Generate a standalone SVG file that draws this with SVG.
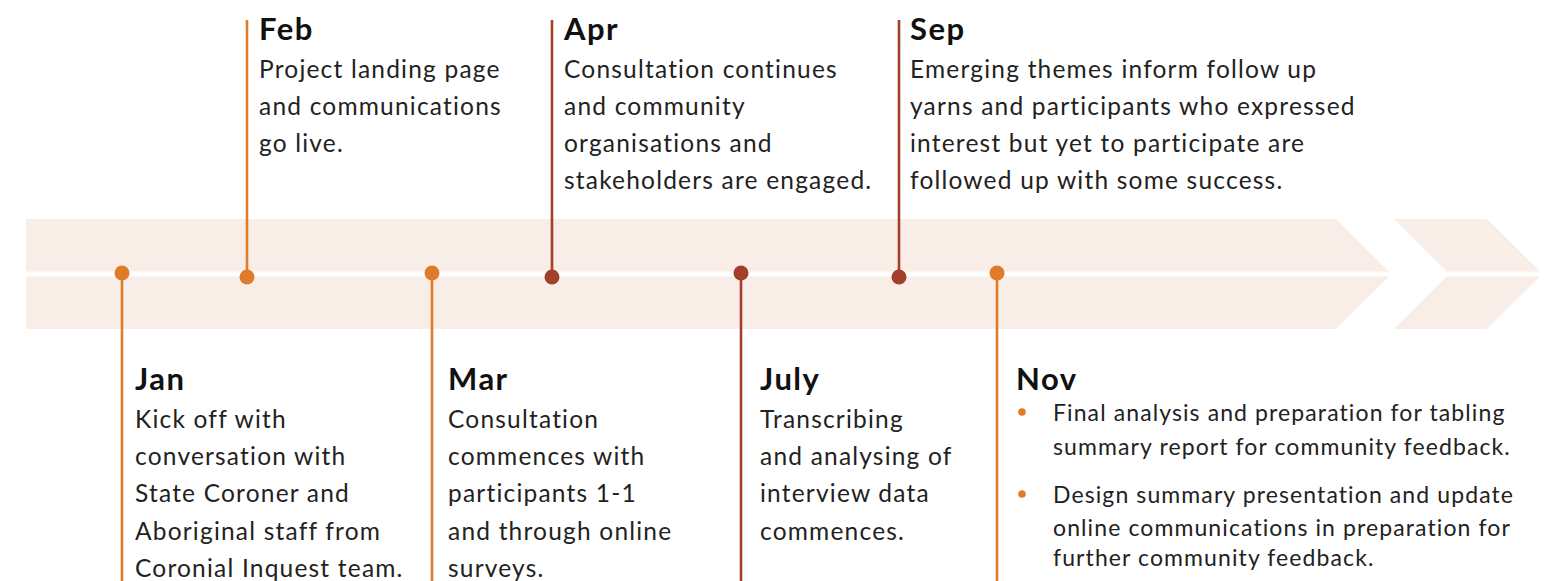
<svg xmlns="http://www.w3.org/2000/svg" width="1547" height="581" viewBox="0 0 1547 581">
  <style>
    .band { fill: #F9EDE7; }
    .t { font-family: Lato, "Noto Sans", "Liberation Sans", sans-serif; font-weight: 700; font-size: 31px; letter-spacing: 1.5px; fill: #111; }
    .b { font-family: Lato, "Noto Sans", "Liberation Sans", sans-serif; font-size: 24.5px; letter-spacing: 1.2px; fill: #222; }
    .bs { font-size: 23px; letter-spacing: 1.1px; }
    .or { stroke: #DF7C2A; }
    .dk { stroke: #A3402A; }
    .lead { stroke-width: 2.6; fill: none; }
    .dot-or { fill: #DF7C2A; }
    .dot-dk { fill: #A3402A; }
  </style>

  <!-- timeline band: two stripes ending in an arrow head, plus a detached chevron -->
  <g id="band">
    <polygon class="band" points="26,219 1336,219 1389,271.5 26,271.5"/>
    <polygon class="band" points="26,276.5 1389,276.5 1336,329 26,329"/>
    <polygon class="band" points="1394,219 1487,219 1540,271.5 1447,271.5"/>
    <polygon class="band" points="1447,276.5 1540,276.5 1487,329 1394,329"/>
  </g>

  <!-- leader lines from each milestone to its label -->
  <g id="connectors" class="lead">
    <line class="or" x1="122" y1="273" x2="122" y2="581"/>
    <line class="or" x1="247" y1="20" x2="247" y2="277"/>
    <line class="or" x1="432" y1="273" x2="432" y2="581"/>
    <line class="dk" x1="552" y1="20" x2="552" y2="277"/>
    <line class="dk" x1="741" y1="273" x2="741" y2="581"/>
    <line class="dk" x1="899" y1="20" x2="899" y2="277"/>
    <line class="or" x1="997" y1="273" x2="997" y2="581"/>
  </g>

  <g id="jan">
    <circle class="dot-or" cx="122" cy="273" r="7.5"/>
    <text class="t" x="135" y="390">Jan</text>
    <text class="b">
      <tspan x="135" y="428">Kick off with</tspan>
      <tspan x="135" y="465">conversation with</tspan>
      <tspan x="135" y="502">State Coroner and</tspan>
      <tspan x="135" y="540">Aboriginal staff from</tspan>
      <tspan x="135" y="577">Coronial Inquest team.</tspan>
    </text>
  </g>

  <g id="feb">
    <circle class="dot-or" cx="247" cy="277" r="7.5"/>
    <text class="t" x="259" y="40">Feb</text>
    <text class="b">
      <tspan x="259" y="78">Project landing page</tspan>
      <tspan x="259" y="115">and communications</tspan>
      <tspan x="259" y="152">go live.</tspan>
    </text>
  </g>

  <g id="mar">
    <circle class="dot-or" cx="432" cy="273" r="7.5"/>
    <text class="t" x="448" y="390">Mar</text>
    <text class="b">
      <tspan x="448" y="428">Consultation</tspan>
      <tspan x="448" y="465">commences with</tspan>
      <tspan x="448" y="502">participants 1-1</tspan>
      <tspan x="448" y="540">and through online</tspan>
      <tspan x="448" y="577">surveys.</tspan>
    </text>
  </g>

  <g id="apr">
    <circle class="dot-dk" cx="552" cy="277" r="7.5"/>
    <text class="t" x="564" y="40">Apr</text>
    <text class="b">
      <tspan x="564" y="78">Consultation continues</tspan>
      <tspan x="564" y="115">and community</tspan>
      <tspan x="564" y="152">organisations and</tspan>
      <tspan x="564" y="189">stakeholders are engaged.</tspan>
    </text>
  </g>

  <g id="july">
    <circle class="dot-dk" cx="741" cy="273" r="7.5"/>
    <text class="t" x="760" y="390">July</text>
    <text class="b">
      <tspan x="760" y="428">Transcribing</tspan>
      <tspan x="760" y="465">and analysing of</tspan>
      <tspan x="760" y="502">interview data</tspan>
      <tspan x="760" y="540">commences.</tspan>
    </text>
  </g>

  <g id="sep">
    <circle class="dot-dk" cx="899" cy="277" r="7.5"/>
    <text class="t" x="910" y="40">Sep</text>
    <text class="b">
      <tspan x="910" y="78">Emerging themes inform follow up</tspan>
      <tspan x="910" y="115">yarns and participants who expressed</tspan>
      <tspan x="910" y="152">interest but yet to participate are</tspan>
      <tspan x="910" y="189">followed up with some success.</tspan>
    </text>
  </g>

  <g id="nov">
    <circle class="dot-or" cx="997" cy="273" r="7.5"/>
    <text class="t" x="1016" y="390">Nov</text>
    <circle class="dot-or" cx="1022" cy="412" r="3.8"/>
    <circle class="dot-or" cx="1022" cy="494" r="3.8"/>
    <text class="b bs">
      <tspan x="1053" y="421">Final analysis and preparation for tabling</tspan>
      <tspan x="1053" y="455">summary report for community feedback.</tspan>
      <tspan x="1053" y="503">Design summary presentation and update</tspan>
      <tspan x="1053" y="536">online communications in preparation for</tspan>
      <tspan x="1053" y="566">further community feedback.</tspan>
    </text>
  </g>
</svg>
